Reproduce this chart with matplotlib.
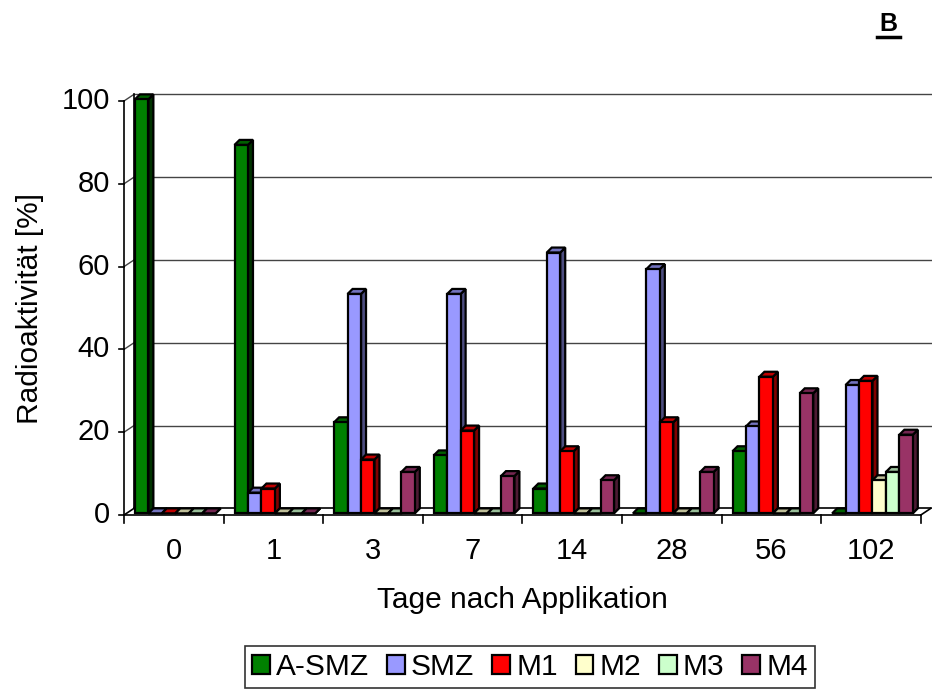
import matplotlib.pyplot as plt
from matplotlib.patches import Polygon, Rectangle, Patch

plt.rcParams['font.family'] = ['Liberation Sans', 'DejaVu Sans']

# Daten: Radioaktivität je Fraktion und Probenahmetag
tage = ['0', '1', '3', '7', '14', '28', '56', '102']
serien = ['A-SMZ', 'SMZ', 'M1', 'M2', 'M3', 'M4']
a_smz = [100, 89, 22, 14, 6, 0, 15, 0]
smz = [0, 5, 53, 53, 63, 59, 21, 31]
m1 = [0, 6, 13, 20, 15, 22, 33, 32]
m2 = [0, 0, 0, 0, 0, 0, 0, 8]
m3 = [0, 0, 0, 0, 0, 0, 0, 10]
m4 = [0, 0, 10, 9, 8, 10, 29, 19]
werte = [a_smz, smz, m1, m2, m3, m4]

farben = ['#008000', '#9999FF', '#FF0000', '#FFFFCC', '#CCFFCC', '#993366']
seiten = ['#003300', '#4D4D80', '#800000', '#80805F', '#608060', '#4D1A33']
deckel = ['#006000', '#7373BF', '#BF0000', '#BFBF99', '#99BF99', '#732650']

# 3D-Tiefe von Boden/Wand und Säulen (Datenkoordinaten)
DX, DY = 0.1, 1.6
BDX, BDY = 0.05, 1.2
OX, OY = 0.0, 0.4
BW = 0.135
START = 0.11

fig = plt.figure(figsize=(9.32, 6.9), dpi=100)
W, H = 932, 690
n = len(tage)
ax = fig.add_axes([124 / W, (H - 515) / H, (n + DX) * 99.6 / W, (100 + DY) * 4.14 / H])
ax.set_xlim(0, n + DX)
ax.set_ylim(0, 100 + DY)
ax.axis('off')

lk = dict(color='black', lw=1.2, clip_on=False, zorder=1)
gk = dict(color='#444444', lw=1.0, clip_on=False, zorder=1)
# Rückwand mit Gitterlinien und Seitenwand
for v in range(20, 101, 20):
    ax.plot([DX, n + DX], [v + DY, v + DY], **gk)
    ax.plot([0, DX], [v, v + DY], **gk)
ax.plot([DX, DX], [DY, 100 + DY], **lk)
ax.plot([DX, n + DX], [DY, DY], **lk)
ax.plot([0, DX], [0, DY], **lk)
ax.plot([n, n + DX], [0, DY], **lk)
ax.plot([0, n], [0, 0], **lk)
ax.plot([0, 0], [0, 100], **lk)

# Achsenstriche und Beschriftungen
for v in range(0, 101, 20):
    ax.plot([-0.05, 0], [v, v], **lk)
    ax.text(-0.14, v, str(v), ha='right', va='center', fontsize=21)
for i in range(n + 1):
    ax.plot([i, i], [0, -2.0], **lk)
for i, t in enumerate(tage):
    ax.text(i + 0.5, -8.7, t, ha='center', va='center', fontsize=21)
ax.text(n / 2, -20.5, 'Tage nach Applikation', ha='center', va='center', fontsize=21.5)
ax.text(-0.94, 50, 'Radioaktivität [%]', ha='center', va='center', rotation=90, fontsize=21.5)

# Säulen als Quader zeichnen: Vorderseite, rechte Seite, Deckel
z = 2
for i in range(n):
    for k in range(len(serien)):
        h = werte[k][i]
        x0 = i + START + k * BW + OX
        y0 = OY
        ek = dict(edgecolor='black', lw=1.6, clip_on=False, joinstyle='miter')
        seite = Polygon([(x0 + BW, y0), (x0 + BW + BDX, y0 + BDY),
                         (x0 + BW + BDX, y0 + h + BDY), (x0 + BW, y0 + h)],
                        facecolor=seiten[k], zorder=z, **ek)
        oben = Polygon([(x0, y0 + h), (x0 + BDX, y0 + h + BDY),
                        (x0 + BW + BDX, y0 + h + BDY), (x0 + BW, y0 + h)],
                       facecolor=deckel[k], zorder=z, **ek)
        ax.add_patch(seite)
        ax.add_patch(oben)
        if h > 0:
            ax.add_patch(Rectangle((x0, y0), BW, h, facecolor=farben[k], zorder=z + 0.5, **ek))
        z += 1

griffe = [Patch(facecolor=f, edgecolor='black', lw=1.6) for f in farben]
leg = fig.legend(griffe, serien, loc='center', bbox_to_anchor=(530 / W, 1 - 667 / H),
                 ncol=6, fontsize=21.5, frameon=True, fancybox=False,
                 handlelength=0.6, handleheight=0.6, handletextpad=0.2,
                 columnspacing=0.6, borderpad=0.25, borderaxespad=0)
leg.get_frame().set_edgecolor('black')
leg.get_frame().set_linewidth(1.2)

fig.text(888 / W, 1 - 24 / H, 'B', ha='center', va='center', fontsize=18,
         fontweight='bold', family=['Liberation Sans', 'DejaVu Sans'])
fig.add_artist(plt.Line2D([877 / W, 900 / W], [1 - 37 / H, 1 - 37 / H], color='black', lw=2.5))

fig.savefig('out.png', dpi=100)
